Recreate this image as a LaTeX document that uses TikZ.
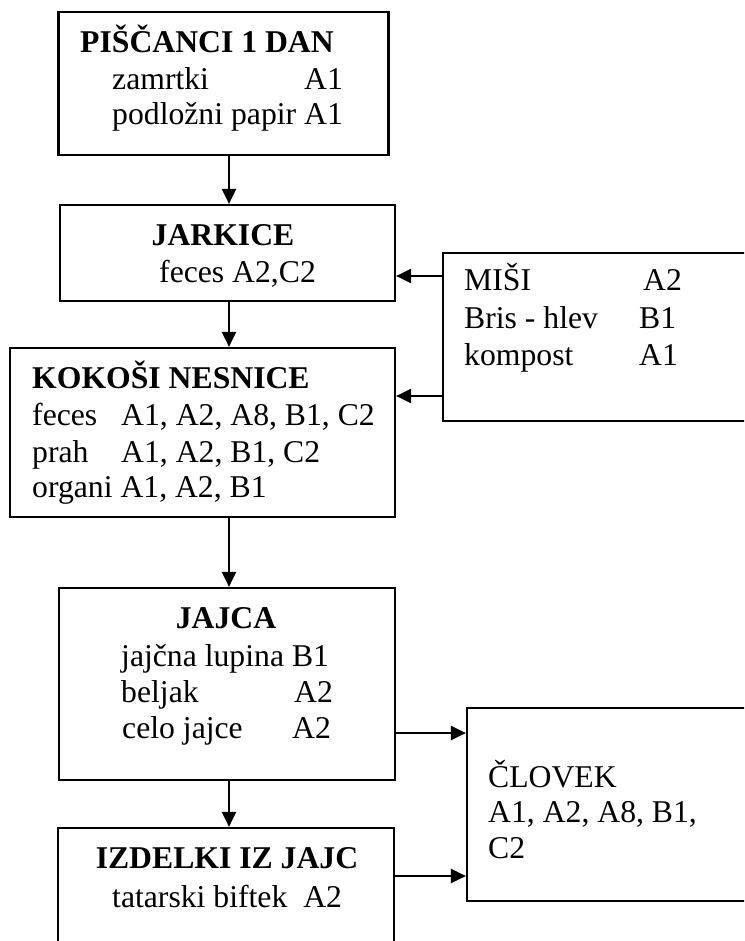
\documentclass[tikz,border=0pt]{standalone}
\usepackage{fontspec}
\setmainfont{Liberation Serif}
\usetikzlibrary{arrows.meta}
\begin{document}
\begin{tikzpicture}[x=1pt,y=-1pt,
  font=\fontsize{31.7}{38}\selectfont,
  box/.style={draw, line width=2.2pt, inner sep=0pt, rectangle},
  txt/.style={inner sep=0pt, anchor=base west},
  ttl/.style={inner sep=0pt, anchor=base, font=\fontsize{31.7}{38}\selectfont\bfseries},
  arr/.style={line width=2.2pt, -{Triangle[length=15pt,width=14pt]}}]
\useasboundingbox (0,0) rectangle (744,941);
\clip (0,0) rectangle (744,941);
% boxes
\node[box, minimum width=330pt, minimum height=143pt] (b1) at (223.5,83.5) {};
\node[box, minimum width=335pt, minimum height=96pt] (b2) at (227.5,253) {};
\node[box, minimum width=385pt, minimum height=169pt] (b3) at (202.5,432.5) {};
\node[box, minimum width=336pt, minimum height=192pt] (b4) at (227,684) {};
\node[box, minimum width=336pt, minimum height=172pt] (b5) at (226,914) {};
\node[box, minimum width=357pt, minimum height=168pt] (m) at (621.5,337) {};
\node[box, minimum width=333pt, minimum height=193pt] (c) at (633.5,804.5) {};
% texts box 1
\node[txt, font=\fontsize{31.7}{38}\selectfont\bfseries] (t1) at (80,53) {PIŠČANCI 1 DAN};
\node[txt] (t1a) at (112,90) {zamrtki};
\node[txt] (t1b) at (304,90) {A1};
\node[txt] (t1c) at (112,125) {podložni papir A1};
% box 2
\node[ttl] (t2) at (223,245) {JARKICE};
\node[txt] (t2a) at (159,282) {feces A2,C2};
% box 3
\node[txt, font=\fontsize{31.7}{38}\selectfont\bfseries] (t3) at (32,388) {KOKOŠI NESNICE};
\node[txt] (t3a) at (32,425) {feces};
\node[txt] (t3b) at (121,425) {A1, A2, A8, B1, C2};
\node[txt] (t3c) at (32,462) {prah};
\node[txt] (t3d) at (121,462) {A1, A2, B1, C2};
\node[txt] (t3e) at (32,497) {organi A1, A2, B1};
% mice
\node[txt] (tm1) at (464,290) {MIŠI};
\node[txt] (tm2) at (643,290) {A2};
\node[txt] (tm3) at (464,328) {Bris - hlev};
\node[txt] (tm4) at (639,328) {B1};
\node[txt] (tm5) at (464,365) {kompost};
\node[txt] (tm6) at (639,365) {A1};
% box 4
\node[ttl] (t4) at (226,628) {JAJCA};
\node[txt] (t4a) at (121,666) {jajčna lupina B1};
\node[txt] (t4b) at (121,702) {beljak};
\node[txt] (t4c) at (294,702) {A2};
\node[txt] (t4d) at (122,738) {celo jajce};
\node[txt] (t4e) at (292,738) {A2};
% box 5
\node[ttl] (t5) at (227,868) {IZDELKI IZ JAJC};
\node[txt] (t5a) at (112,907) {tatarski biftek\ \ A2};
% human
\node[txt] (tc1) at (488,787) {ČLOVEK};
\node[txt] (tc2) at (488,822) {A1, A2, A8, B1,};
\node[txt] (tc3) at (488,858) {C2};
% connectors
\coordinate (ax) at (229,0);
\draw[arr] (b1.south -| ax) -- (b2.north -| ax);
\draw[arr] (b2.south -| ax) -- (b3.north -| ax);
\draw[arr] (b3.south -| ax) -- (b4.north -| ax);
\draw[arr] (b4.south -| ax) -- (b5.north -| ax);
\coordinate (y1) at (0,276);
\coordinate (y2) at (0,396);
\coordinate (y3) at (0,733);
\coordinate (y4) at (0,876);
\draw[arr] (m.west |- y1) -- (b2.east |- y1);
\draw[arr] (m.west |- y2) -- (b3.east |- y2);
\draw[arr] (b4.east |- y3) -- (c.west |- y3);
\draw[arr] (b5.east |- y4) -- (c.west |- y4);
\end{tikzpicture}
\end{document}
